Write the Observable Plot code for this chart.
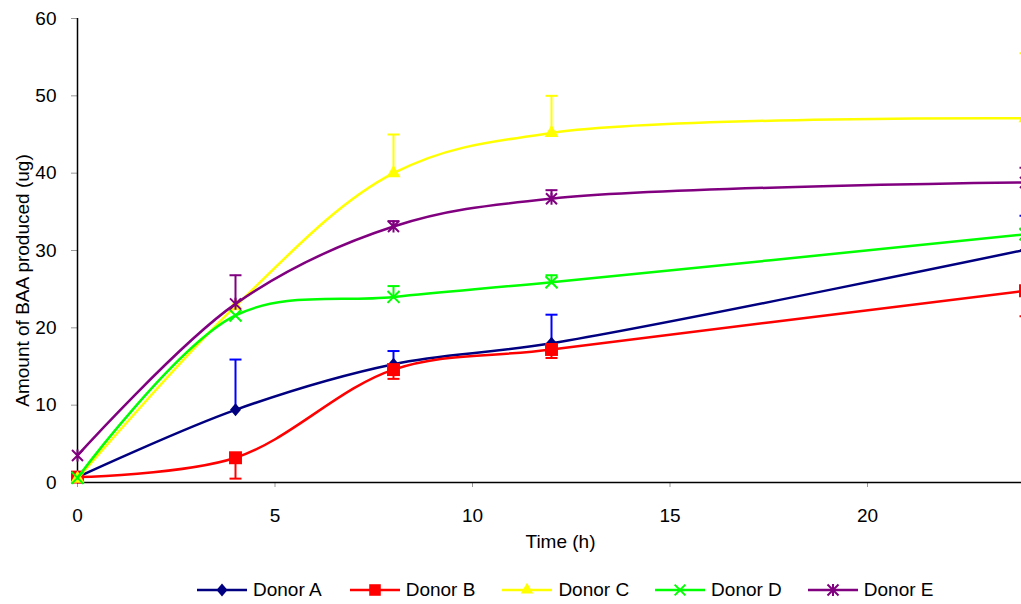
<!DOCTYPE html>
<html><head><meta charset="utf-8">
<script src="https://cdn.jsdelivr.net/npm/d3@7"></script>
<script src="https://cdn.jsdelivr.net/npm/@observablehq/plot@0.6"></script>
<style>
html,body{margin:0;padding:0;background:#fff;overflow:hidden;}
body{font-family:"Liberation Sans",Arial,sans-serif;width:1021px;height:604px;position:relative;}
#chart{position:absolute;left:0;top:0;width:1021px;overflow:hidden;}
#legend{position:absolute;left:0;top:577px;width:1021px;height:26px;}
.item{position:absolute;top:0;height:26px;display:flex;align-items:center;font-size:19px;color:#000;white-space:nowrap;}
.item svg{margin-right:6px;}
</style></head><body>
<div id="chart"></div><div id="legend"></div>
<script>
// ---- data ----
const donors = ["Donor A", "Donor B", "Donor C", "Donor D", "Donor E"];
const hours = [0, 4, 8, 12, 24];
const donorA = [0.7, 9.4, 15.3, 18.0, 30.1];
const donorB = [0.7, 3.2, 14.6, 17.2, 24.8];
const donorC = [0.5, 22.8, 40.0, 45.2, 47.1];
const donorD = [0.6, 21.6, 24.0, 25.9, 32.1];
const donorE = [3.5, 23.1, 33.1, 36.7, 38.8];
// error bar lengths (A, C, D, E: plus direction; B: minus direction)
const errA = [0, 6.5, 1.7, 3.7, 4.4];
const errB = [0, 2.7, 1.2, 1.1, 3.3];
const errC = [0, 0, 5.0, 4.8, 8.4];
const errD = [0, 0, 1.4, 0.9, 0.7];
const errE = [0, 3.7, 0.7, 1.1, 1.9];
const errSign = [1, -1, 1, 1, 1];
const xTicks = [0, 5, 10, 15, 20];
const yTicks = [0, 10, 20, 30, 40, 50, 60];
const xTitle = "Time (h)";
const yTitle = "Amount of BAA produced (ug)";

// ---- styles ----
const lineColors = ["#000080", "#FF0000", "#FFFF00", "#00FF00", "#800080"];
const errColors  = ["#0000FF", "#FF0000", "#FFFF00", "#00FF00", "#800080"];
const diamond = {draw(ctx) { ctx.moveTo(0, -6.5); ctx.lineTo(5.5, 0); ctx.lineTo(0, 6.5); ctx.lineTo(-5.5, 0); ctx.closePath(); }};
const star = {draw(ctx) {
  const r = 5.5;
  ctx.moveTo(-r, -r); ctx.lineTo(r, r);
  ctx.moveTo(-r, r); ctx.lineTo(r, -r);
  ctx.moveTo(0, -r - 0.5); ctx.lineTo(0, r + 0.5);
}};
const symbols = [diamond, "square", "triangle", "times", star];
const d3symbols = [diamond, d3.symbolSquare, d3.symbolTriangle, d3.symbolTimes, star];
const filled = [true, true, true, false, false];
const radii = [5, 7.3, 5.2, 5.5, 5.5];

const series = [donorA, donorB, donorC, donorD, donorE];
const errs = [errA, errB, errC, errD, errE];
const rows = donors.flatMap((d, i) => hours.map((h, j) => ({donor: d, i, x: h, y: series[i][j], e: errs[i][j] * errSign[i]})));

const cap = {draw(ctx) { ctx.moveTo(-6, 0); ctx.lineTo(6, 0); }};

const marks = [];
donors.forEach((d, i) => {
  const s = rows.filter(r => r.i === i);
  const se = s.filter(r => r.e !== 0);
  marks.push(
    Plot.ruleX(se, {x: "x", y1: "y", y2: r => r.y + r.e, stroke: errColors[i], strokeWidth: 2}),
    Plot.dot(se, {x: "x", y: r => r.y + r.e, symbol: cap, stroke: errColors[i], strokeWidth: 2, r: 4}),
    Plot.line(s, {x: "x", y: "y", stroke: lineColors[i], strokeWidth: 2.5, curve: "catmull-rom"}),
    Plot.dot(s, {x: "x", y: "y", symbol: symbols[i], r: radii[i],
      fill: filled[i] ? lineColors[i] : "none", stroke: filled[i] ? "none" : lineColors[i], strokeWidth: 2})
  );
});

const chart = Plot.plot({
  width: 1021, height: 560,
  marginLeft: 77, marginRight: 0, marginTop: 18, marginBottom: 78,
  style: {fontFamily: "'Liberation Sans', Arial, sans-serif", fontSize: "19px", background: "white", overflow: "hidden", color: "black"},
  x: {domain: [0, 24], range: [77, 1025]},
  y: {domain: [0, 60]},
  marks: [
    Plot.axisX({ticks: xTicks, tickSize: 5, tickPadding: 21, stroke: "#999", fill: "black", label: null, fontSize: 19}),
    Plot.axisY({ticks: yTicks, tickSize: 6, tickPadding: 15, stroke: "#999", fill: "black", label: null, fontSize: 19}),
    Plot.ruleY([0], {stroke: "black", strokeWidth: 1.5}),
    Plot.ruleX([0], {stroke: "black", strokeWidth: 1.5}),
    Plot.text([xTitle], {frameAnchor: "bottom", dx: 11, dy: 59, lineAnchor: "middle", fontSize: 19, fill: "black"}),
    Plot.text([yTitle], {frameAnchor: "left", rotate: -90, dx: -55, dy: 30, lineAnchor: "middle", textAnchor: "middle", fontSize: 19, fill: "black"}),
    ...marks
  ]
});
document.getElementById("chart").append(chart);

// ---- legend ----
const legend = document.getElementById("legend");
donors.forEach((d, i) => {
  const item = document.createElement("div");
  item.className = "item";
  item.style.left = (197 + i * 152.7) + "px";
  const svg = d3.create("svg").attr("width", 50).attr("height", 26);
  svg.append("line").attr("x1", 0).attr("x2", 50).attr("y1", 13).attr("y2", 13)
    .attr("stroke", lineColors[i]).attr("stroke-width", 2.5);
  svg.append("path").attr("transform", "translate(25,13)")
    .attr("d", d3.symbol(d3symbols[i], Math.PI * radii[i] * radii[i] * 0.8)())
    .attr("fill", filled[i] ? lineColors[i] : "none")
    .attr("stroke", filled[i] ? "none" : lineColors[i]).attr("stroke-width", 2);
  item.append(svg.node());
  const span = document.createElement("span");
  span.textContent = d;
  item.append(span);
  legend.append(item);
});
</script></body></html>
